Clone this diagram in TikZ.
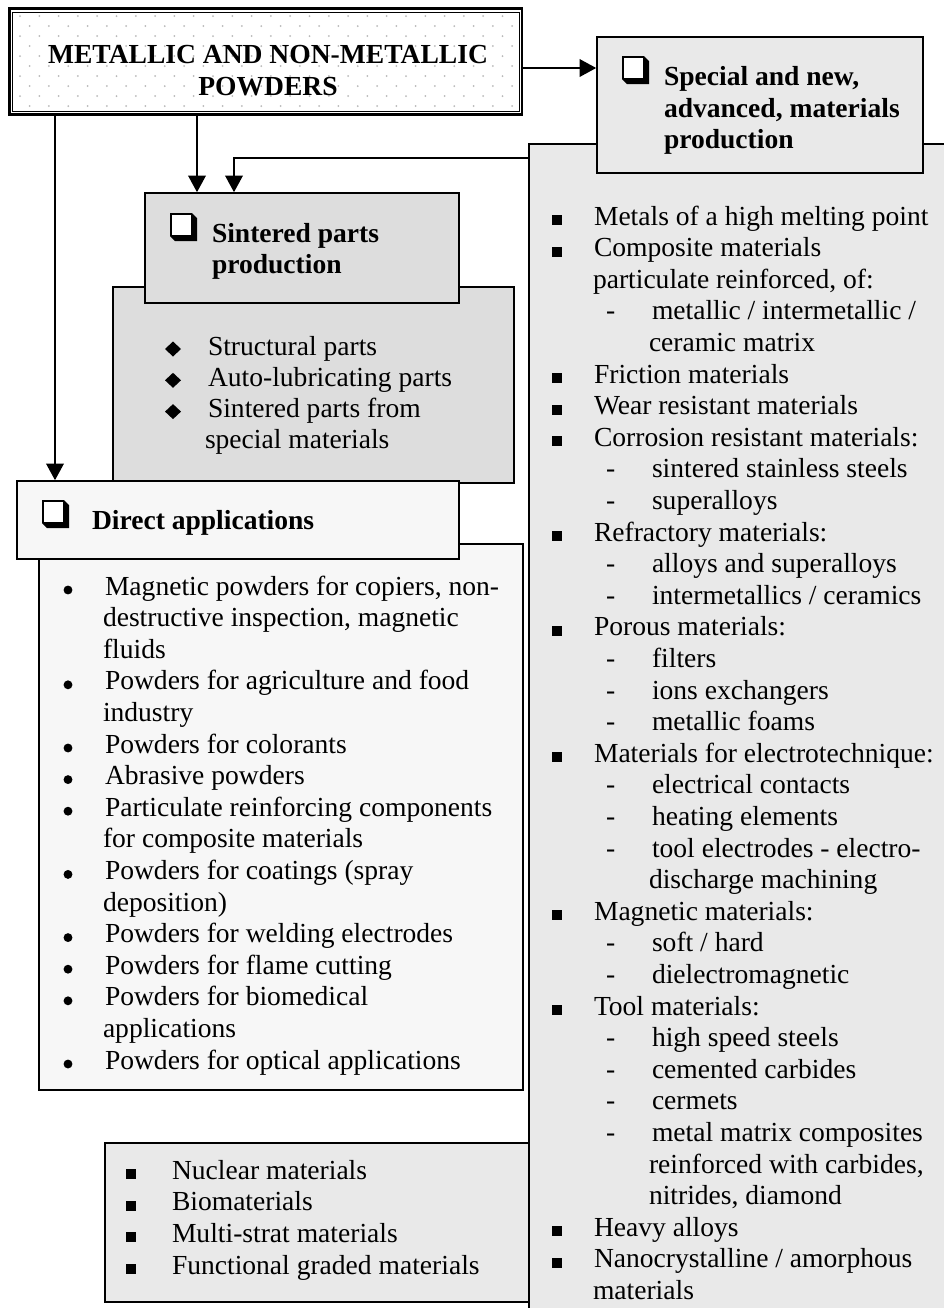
\documentclass[tikz,border=0pt]{standalone}
\usepackage{fontspec}
\setmainfont{Liberation Serif}
\usetikzlibrary{fit,arrows.meta}

\definecolor{sintgray}{HTML}{DDDDDD}
\definecolor{advgray}{HTML}{E9E9E9}
\definecolor{dirgray}{HTML}{F7F7F7}
\newcommand{\diagfont}{\fontsize{12.4pt}{14.5pt}\selectfont}

\tikzset{
  framed/.style={draw=black, line width=0.75pt, inner sep=0pt},
  panelbox/.style={draw=black, line width=0.8pt, inner sep=0pt},
  arr/.style={line width=0.6pt, -{Triangle[length=7.5pt,width=8pt]}},
  txt/.style={anchor=base west, inner sep=0pt, outer sep=0pt},
  ttl/.style={txt, font=\diagfont\bfseries},
  chkbox/.pic={
    \fill (0,0) -- (22,0) -- (27,5) -- (27,28) -- (5,28) -- (0,23) -- cycle;
    \fill[white] (1.5,1.5) rectangle (20.5,21.5);
  },
}

\begin{document}
\begin{tikzpicture}[x=0.45pt, y=-0.45pt, font=\diagfont]
  \useasboundingbox (0,0) rectangle (944,1308);
  \clip (0,0) rectangle (944,1308);

  % panels
  \node[panelbox, fill=advgray, fit={(529,144) (960,1330)}] (advpanel) {};
  \node[framed, fill=advgray, fit={(597,37) (923,173)}] (special) {};
  \node[framed, fill=sintgray, fit={(113,287) (514,483)}] (sintbody) {};
  \node[framed, fill=sintgray, fit={(145,193) (459,303)}] (sinthead) {};
  \node[framed, fill=dirgray, fit={(39,544) (523,1090)}] (dirbody) {};
  \node[framed, fill=dirgray, fit={(17,481) (459,559)}] (dirhead) {};
  \node[framed, fill=advgray, fit={(105,1143) (529,1302)}] (otherbox) {};

  % source box, dotted
  \node[draw=black, line width=1.3pt, fill=white, inner sep=0pt, fit={(9.5,8.5) (522,114.5)}] (powders) {};
  \begin{scope}
    \clip (13,12) rectangle (519,111);
    \foreach \r in {0,...,9}
      \foreach \c in {0,...,26}
        \fill[gray!55] ({20+19.3*\c+9.65*mod(\r,2)},{16+10*\r}) circle (0.45pt);
  \end{scope}
  \draw[line width=0.35pt] (12.5,12) rectangle (519.5,111.5);
  \node[font=\diagfont\bfseries, anchor=base, inner sep=0pt] (powtitle1) at (268,63) {METALLIC AND NON-METALLIC};
  \node[font=\diagfont\bfseries, anchor=base, inner sep=0pt] (powtitle2) at (268,95) {POWDERS};

  % connectors
  \coordinate (ya) at (0,68);
  \coordinate (yb) at (0,158);
  \coordinate (xa) at (55,0);
  \coordinate (xb) at (197,0);
  \coordinate (xc) at (234,0);
  \draw[arr] (powders.east |- ya) -- (special.west |- ya);
  \draw[arr] (powders.south -| xb) -- (sinthead.north -| xb);
  \draw[arr] (advpanel.west |- yb) -| (sinthead.north -| xc);
  \draw[arr] (powders.south -| xa) -- (dirhead.north -| xa);

  % titles
  \pic at (622,56) {chkbox};
  \node[ttl] (spectitle1) at (664,85) {Special and new,};
  \node[ttl] (spectitle2) at (664,117) {advanced, materials};
  \node[ttl] (spectitle3) at (664,148) {production};
  \pic at (170,213) {chkbox};
  \node[ttl] (sinttitle1) at (212,242) {Sintered parts};
  \node[ttl] (sinttitle2) at (212,273) {production};
  \pic at (42,500) {chkbox};
  \node[ttl] (dirtitle) at (92,529) {Direct applications};

  % sintered parts list
  \foreach \kind/\txt [count=\i from 0] in {v/{Structural parts}, v/{Auto-lubricating parts},
      v/{Sintered parts from}, c/{special materials}}{
    \pgfmathsetmacro{\yb}{355+31.3*\i}
    \if\kind v
      \fill (165,\yb-6) -- (173,\yb-13.5) -- (181,\yb-6) -- (173,\yb+1.5) -- cycle;
      \node[txt] (sintitem\i) at (208,\yb) {\txt};
    \else
      \node[txt] (sintitem\i) at (205,\yb) {\txt};
    \fi
  }

  % direct applications list
  \foreach \kind/\txt [count=\i from 0] in {b/{Magnetic powders for copiers, non-},
      c/{destructive inspection, magnetic}, c/{fluids},
      b/{Powders for agriculture and food}, c/{industry},
      b/{Powders for colorants}, b/{Abrasive powders},
      b/{Particulate reinforcing components}, c/{for composite materials},
      b/{Powders for coatings (spray}, c/{deposition)},
      b/{Powders for welding electrodes}, b/{Powders for flame cutting},
      b/{Powders for biomedical}, c/{applications},
      b/{Powders for optical applications}}{
    \pgfmathsetmacro{\yb}{595+31.6*\i}
    \if\kind b
      \fill (68,\yb-5) circle (2pt);
      \node[txt] (diritem\i) at (105,\yb) {\txt};
    \else
      \node[txt] (diritem\i) at (103,\yb) {\txt};
    \fi
  }

  % advanced materials list
  \foreach \kind/\txt [count=\i from 0] in {s/{Metals of a high melting point},
      s/{Composite materials}, c/{particulate reinforced, of:},
      d/{metallic / intermetallic /}, e/{ceramic matrix},
      s/{Friction materials}, s/{Wear resistant materials},
      s/{Corrosion resistant materials:}, d/{sintered stainless steels}, d/{superalloys},
      s/{Refractory materials:}, d/{alloys and superalloys}, d/{intermetallics / ceramics},
      s/{Porous materials:}, d/{filters}, d/{ions exchangers}, d/{metallic foams},
      s/{Materials for electrotechnique:}, d/{electrical contacts}, d/{heating elements},
      d/{tool electrodes - electro-}, e/{discharge machining},
      s/{Magnetic materials:}, d/{soft / hard}, d/{dielectromagnetic},
      s/{Tool materials:}, d/{high speed steels}, d/{cemented carbides}, d/{cermets},
      d/{metal matrix composites}, e/{reinforced with carbides,}, e/{nitrides, diamond},
      s/{Heavy alloys}, s/{Nanocrystalline / amorphous}, c/{materials}}{
    \pgfmathsetmacro{\yb}{225+31.6*\i}
    \if\kind s
      \fill (552,\yb-10) rectangle (562,\yb);
      \node[txt] (advitem\i) at (594,\yb) {\txt};
    \fi
    \if\kind c
      \node[txt] (advitem\i) at (593,\yb) {\txt};
    \fi
    \if\kind d
      \node[txt] (advdash\i) at (606,\yb) {-};
      \node[txt] (advitem\i) at (652,\yb) {\txt};
    \fi
    \if\kind e
      \node[txt] (advitem\i) at (649,\yb) {\txt};
    \fi
  }

  % other materials list
  \foreach \txt [count=\i from 0] in {Nuclear materials, Biomaterials,
      Multi-strat materials, Functional graded materials}{
    \pgfmathsetmacro{\yb}{1179+31.7*\i}
    \fill (126,\yb-10) rectangle (136,\yb);
    \node[txt] (otheritem\i) at (172,\yb) {\txt};
  }
\end{tikzpicture}
\end{document}
